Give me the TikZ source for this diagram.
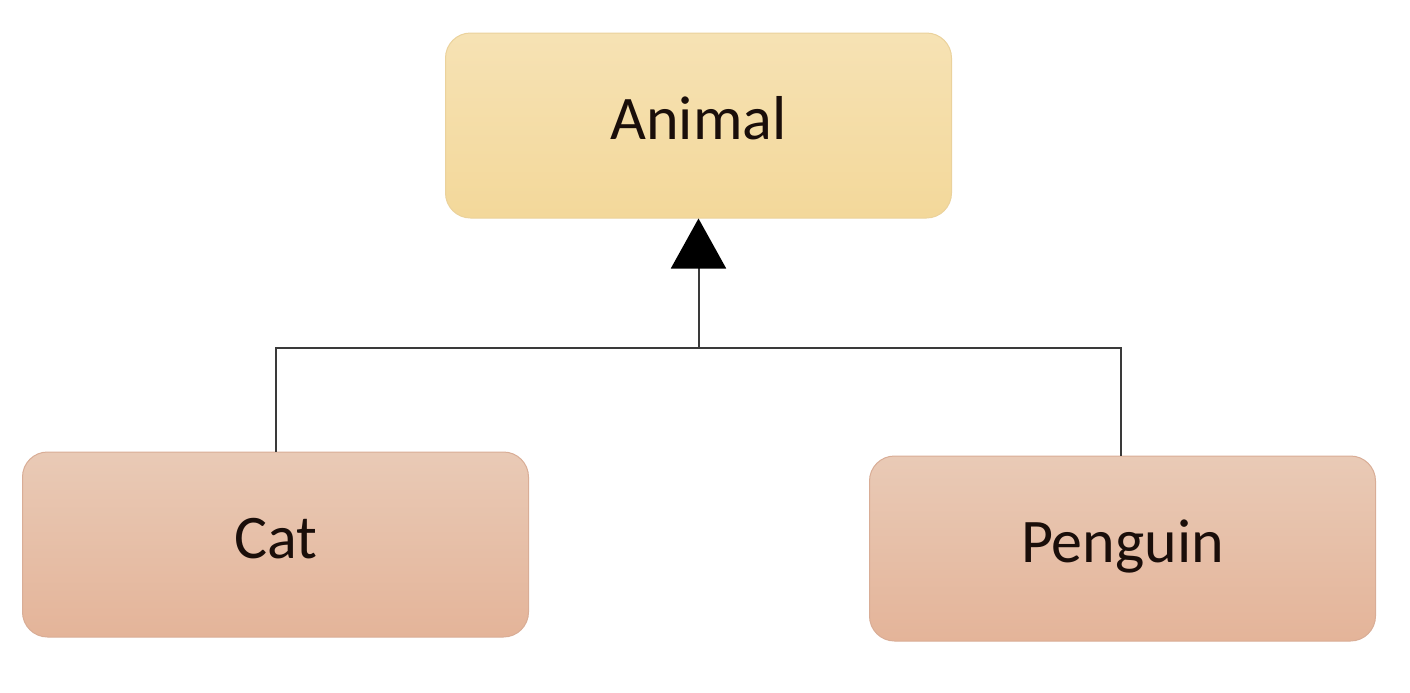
\documentclass[tikz,border=0pt]{standalone}
\usepackage{fontspec}
\setmainfont{Carlito}
\usetikzlibrary{arrows.meta}
\definecolor{animalTop}{HTML}{F6E2B4}
\definecolor{animalBot}{HTML}{F3D89A}
\definecolor{animalEdge}{HTML}{EBD29C}
\definecolor{subTop}{HTML}{E9CAB6}
\definecolor{subBot}{HTML}{E4B499}
\definecolor{subEdge}{HTML}{D9AD96}
\definecolor{txt}{HTML}{1A0E0A}
\definecolor{linec}{HTML}{3A3A3A}
\tikzset{
  classbox/.style={rounded corners=12.5pt, minimum width=253pt, minimum height=92.5pt,
    inner sep=0pt, text=txt, font=\fontsize{31}{38}\selectfont, line width=0.5pt,
    text height=13.5pt, text depth=0pt},
  animalbox/.style={classbox, draw=animalEdge, top color=animalTop, bottom color=animalBot},
  subbox/.style={classbox, draw=subEdge, top color=subTop, bottom color=subBot},
  conn/.style={draw=linec, line width=1pt},
}
\begin{document}
\begin{tikzpicture}[x=0.5pt,y=-0.5pt]
\useasboundingbox (0,0) rectangle (1410,692);
\node[animalbox] (animal) at (698.5,125.5) {Animal};
\node[subbox] (cat) at (275.5,544.5) {Cat};
\node[subbox] (penguin) at (1122.5,548.5) {Penguin};
\coordinate (join) at (698.5,348);
\coordinate (catup) at (275.5,348);
\coordinate (penup) at (1121,348);
\draw[conn] (cat.north) -- (catup) -- (penup) -- (penguin.north -| penup);
\draw[conn, -{Triangle[length=25pt,width=27.5pt,fill=black,color=black]}] (join) -- (animal.south);
\end{tikzpicture}
\end{document}
